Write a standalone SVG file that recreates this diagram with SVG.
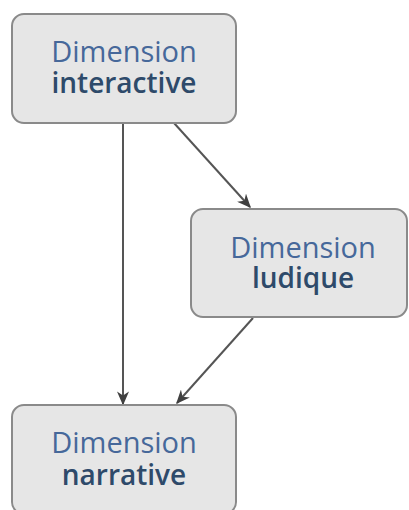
<svg xmlns="http://www.w3.org/2000/svg" width="409" height="510" viewBox="0 0 409 510">
<defs>
<style>
.box{fill:#e6e6e6;stroke:#8a8a8a;stroke-width:2}
.t1{font-family:"Open Sans","Noto Sans",sans-serif;font-size:29px;fill:#46689a;text-anchor:middle}
.t2{font-family:"Open Sans","Noto Sans",sans-serif;font-size:28px;fill:#2e4a6a;text-anchor:middle;font-weight:600}
.edge{stroke:#555555;stroke-width:2;fill:none;marker-end:url(#arr)}
</style>
<marker id="arr" viewBox="0 0 10 10" refX="9" refY="5" markerWidth="14" markerHeight="12" orient="auto" markerUnits="userSpaceOnUse" preserveAspectRatio="none">
<path d="M0,0 L10,5 L0,10 L3,5 Z" fill="#404040"/>
</marker>
</defs>
<rect width="409" height="510" fill="#ffffff"/>
<g id="connectors">
<line class="edge" x1="123" y1="123" x2="123" y2="404"/>
<line class="edge" x1="174" y1="123" x2="250" y2="207"/>
<line class="edge" x1="253" y1="318" x2="177" y2="403"/>
</g>
<g id="interactive">
<rect class="box" x="12" y="14" width="224" height="109" rx="12"/>
<text class="t1" x="124" y="62">Dimension</text>
<text class="t2" x="124" y="93">interactive</text>
</g>
<g id="ludique">
<rect class="box" x="191" y="209" width="216" height="108" rx="12"/>
<text class="t1" x="303" y="258">Dimension</text>
<text class="t2" x="303" y="288">ludique</text>
</g>
<g id="narrative">
<rect class="box" x="12" y="405" width="224" height="109" rx="12"/>
<text class="t1" x="124" y="453">Dimension</text>
<text class="t2" x="124" y="485">narrative</text>
</g>
</svg>
